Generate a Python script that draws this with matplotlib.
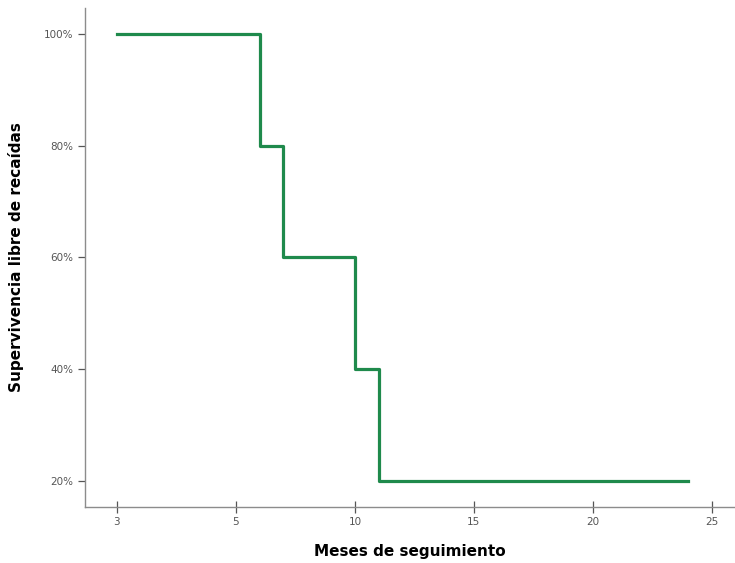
import matplotlib.pyplot as plt
from matplotlib.ticker import FuncFormatter

# 生存曲線（Kaplan-Meier）
tiempo = [0, 6, 7, 10, 11, 24]
supervivencia = [100, 80, 60, 40, 20, 20]
xticks = [0, 5, 10, 15, 20, 25]
xtick_labels = ["3", "5", "10", "15", "20", "25"]
yticks = [20, 40, 60, 80, 100]

fig = plt.figure(figsize=(7.35, 5.63), dpi=100)
ax = fig.add_axes([0.1156, 0.0995, 0.8844, 0.8863])
ax.step(tiempo, supervivencia, where='post', color='#1f8a4c', linewidth=2.3)

ax.set_xlim(-1.34, 25.97)
ax.set_ylim(15.36, 104.6)
ax.set_xticks(xticks)
ax.set_xticklabels(xtick_labels)
ax.set_yticks(yticks)
ax.yaxis.set_major_formatter(FuncFormatter(lambda v, p: f"{int(v)}%"))

for s in ['top', 'right']:
    ax.spines[s].set_visible(False)
for s in ['left', 'bottom']:
    ax.spines[s].set_color('#8c8c8c')
    ax.spines[s].set_linewidth(1.0)
ax.tick_params(axis='both', colors='#555555', labelsize=7.5, length=5, width=0.9)
ax.tick_params(axis='x', direction='inout', length=8)

ax.set_xlabel("Meses de seguimiento", fontsize=11, fontweight='bold', labelpad=12)
ax.set_ylabel("Supervivencia libre de recaídas", fontsize=11, fontweight='bold', labelpad=14)
plt.savefig('out.png')
